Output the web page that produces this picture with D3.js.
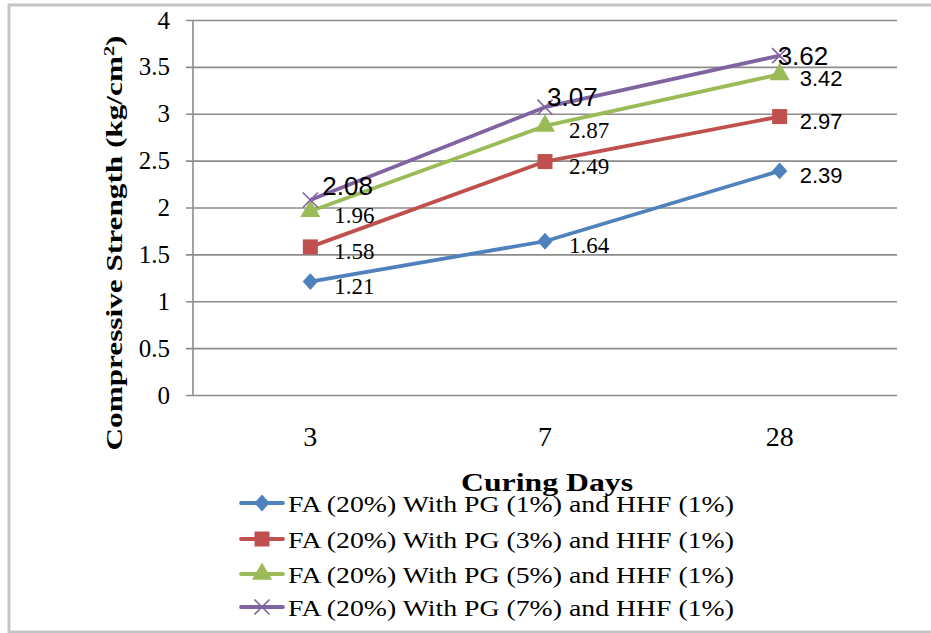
<!DOCTYPE html>
<html>
<head>
<meta charset="utf-8">
<script src="https://cdn.jsdelivr.net/npm/d3@7"></script>
<style>
  html, body { margin: 0; padding: 0; background: #fff; }
  svg { display: block; }
</style>
</head>
<body>
<svg id="chart" width="931" height="633"></svg>
<script>
// Curing ages (days) on the category axis
const categories = ["3", "7", "28"];
// Compressive strength (kg/cm²) per mix
const seriesNames = [
  "FA (20%) With PG (1%) and HHF (1%)",
  "FA (20%) With PG (3%) and HHF (1%)",
  "FA (20%) With PG (5%) and HHF (1%)",
  "FA (20%) With PG (7%) and HHF (1%)"
];
const pg1 = [1.21, 1.64, 2.39];
const pg3 = [1.58, 2.49, 2.97];
const pg5 = [1.96, 2.87, 3.42];
const pg7 = [2.08, 3.07, 3.62];
const yTicks = [0, 0.5, 1, 1.5, 2, 2.5, 3, 3.5, 4];

const colors = ["#4F81BD", "#C0504D", "#9BBB59", "#8064A2"];
const markers = ["diamond", "square", "triangle", "cross"];
const seriesValues = [pg1, pg3, pg5, pg7];

const svg = d3.select("#chart");
const serif = "'Liberation Serif', 'Times New Roman', serif";
const sans = "'Liberation Sans', Arial, sans-serif";

// outer frame
svg.append("rect")
  .attr("x", 9).attr("y", 5).attr("width", 930).attr("height", 627)
  .attr("fill", "#fff").attr("stroke", "#c4c4c4").attr("stroke-width", 3);

const plot = { left: 193, right: 897, top: 20, bottom: 395 };

const x = d3.scaleBand().domain(categories).range([plot.left, plot.right]);
const y = d3.scaleLinear().domain([0, 4]).range([plot.bottom, plot.top]);

// horizontal gridlines + y axis
const yAxis = d3.axisLeft(y).tickValues(yTicks).tickSize(-(plot.right - plot.left)).tickPadding(23)
  .tickFormat(d => String(d));
const gy = svg.append("g").attr("transform", `translate(${plot.left},0)`).call(yAxis);
gy.select(".domain").remove();
gy.selectAll(".tick line").attr("stroke", "#8c8c8c").attr("stroke-width", 1.6).attr("x1", -7);
gy.selectAll(".tick text").attr("font-family", serif).attr("font-size", 25).attr("fill", "#000");

// vertical axis line
svg.append("line")
  .attr("x1", plot.left).attr("x2", plot.left)
  .attr("y1", plot.top).attr("y2", plot.bottom + 1)
  .attr("stroke", "#8c8c8c").attr("stroke-width", 1.6);

// x axis labels
const xAxis = d3.axisBottom(x).tickSize(0).tickPadding(31);
const gx = svg.append("g").attr("transform", `translate(0,${plot.bottom})`).call(xAxis);
gx.select(".domain").remove();
gx.selectAll(".tick text").attr("font-family", serif).attr("font-size", 28).attr("fill", "#000");

// axis titles
const yTitle = svg.append("text")
  .attr("transform", "translate(122,243) rotate(-90)")
  .attr("text-anchor", "middle")
  .attr("font-family", serif).attr("font-weight", "bold").attr("font-size", 23)
  .attr("textLength", 415).attr("lengthAdjust", "spacingAndGlyphs");
yTitle.append("tspan").text("Compressive Strength (kg/cm");
yTitle.append("tspan").attr("baseline-shift", "super").attr("font-size", 15).text("2");
yTitle.append("tspan").text(")");

svg.append("text")
  .attr("x", 547).attr("y", 491)
  .attr("text-anchor", "middle")
  .attr("font-family", serif).attr("font-weight", "bold").attr("font-size", 25)
  .attr("textLength", 172).attr("lengthAdjust", "spacingAndGlyphs")
  .text("Curing Days");

// marker symbol paths
function markerPath(kind) {
  if (kind === "diamond") return d3.symbol(d3.symbolDiamond2 || d3.symbolDiamond, 150)();
  if (kind === "square") return d3.symbol(d3.symbolSquare, 225)();
  if (kind === "triangle") return d3.symbol(d3.symbolTriangle, 175)();
  return d3.symbol(d3.symbolTimes, 150)();
}
function drawMarker(g, kind, color, cx, cy) {
  const p = g.append("path").attr("d", markerPath(kind)).attr("transform", `translate(${cx},${cy})`);
  if (kind === "cross") p.attr("fill", "none").attr("stroke", color).attr("stroke-width", 1.6);
  else p.attr("fill", color);
  if (kind === "diamond") p.attr("transform", `translate(${cx},${cy}) scale(1,1.1)`);
}

const cx = c => x(c) + x.bandwidth() / 2;
const line = d3.line().x((d, i) => cx(categories[i])).y(d => y(d));

seriesValues.forEach((vals, s) => {
  const g = svg.append("g");
  g.append("path").datum(vals).attr("d", line)
    .attr("fill", "none").attr("stroke", colors[s]).attr("stroke-width", 3.8)
    .attr("stroke-linejoin", "round");
  vals.forEach((v, i) => drawMarker(g, markers[s], colors[s], cx(categories[i]), y(v)));
});

// data labels: right of the point for the lower three mixes, above the point for the top one
const topLabelShift = [12, 2, -2];
const topLabelRise = [-5, -1, 9];
seriesValues.forEach((vals, s) => {
  vals.forEach((v, i) => {
    const top = s === 3;
    svg.append("text")
      .attr("x", cx(categories[i]) + (top ? topLabelShift[i] : (i === 2 ? 20 : 24)))
      .attr("y", y(v) + (top ? topLabelRise[i] : 12))
      .attr("font-family", top || i === 2 ? sans : serif)
      .attr("font-size", top ? 26 : (i === 2 ? 22 : 23))
      .attr("fill", "#000")
      .text(v.toFixed(2));
  });
});

// legend
const legY = [503, 539, 574, 607];
seriesNames.forEach((name, s) => {
  const g = svg.append("g");
  g.append("line").attr("x1", 241).attr("x2", 283).attr("y1", legY[s]).attr("y2", legY[s])
    .attr("stroke", colors[s]).attr("stroke-width", 3.8).attr("stroke-linecap", "round");
  drawMarker(g, markers[s], colors[s], 262, legY[s]);
  g.append("text").attr("x", 288).attr("y", legY[s] + 9)
    .attr("font-family", serif).attr("font-size", 23).attr("fill", "#000")
    .attr("textLength", 446).attr("lengthAdjust", "spacingAndGlyphs")
    .text(name);
});
</script>
</body>
</html>
